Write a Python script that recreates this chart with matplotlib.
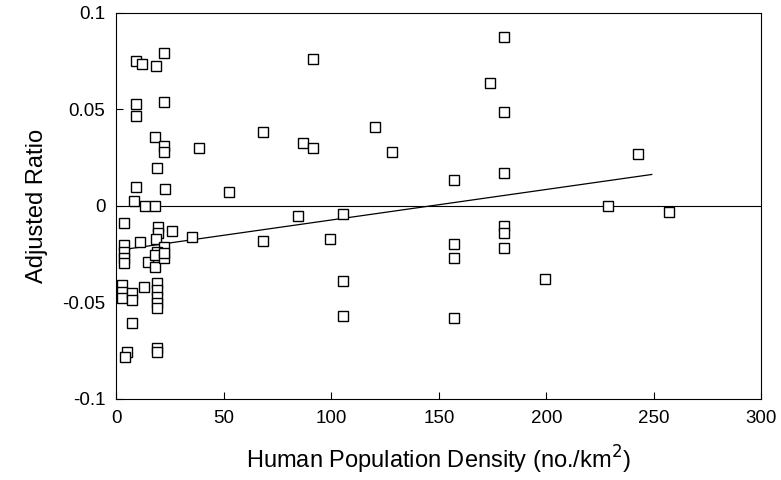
import matplotlib.pyplot as plt
import numpy as np

plt.rcParams['font.family'] = ['Liberation Sans', 'DejaVu Sans']

# population density (no./km2) vs adjusted ratio
density = [9.0, 12.1, 18.3, 22.0, 9.0, 9.0, 22.0, 17.8, 22.0, 22.0, 18.9,
           9.1, 22.4, 8.0, 13.4, 17.8, 3.6, 25.8, 19.3, 19.3, 18.2, 11.1,
           3.6, 3.6, 22.0, 18.9, 3.4, 3.4, 14.7, 18.1, 18.1, 22.0, 22.0,
           2.6, 2.6, 2.6, 7.2, 7.2, 12.7, 18.9, 18.9, 18.9, 18.9, 18.9,
           7.5, 5.1, 4.2, 18.9, 18.9, 35.0, 38.6, 52.4,
           68.3, 87.0, 91.6, 91.6, 120.3, 128.4, 157.1, 173.8, 180.4, 180.4, 180.4,
           84.6, 105.3, 68.3, 99.4, 157.1, 157.1, 180.4, 180.4, 180.4,
           105.6, 105.6, 157.1, 228.5, 256.9, 199.2, 242.6]
ratio = [0.0753, 0.0736, 0.0727, 0.0794, 0.0528, 0.0466, 0.0537, 0.0356, 0.0311, 0.0281, 0.0198,
         0.0097, 0.0087, 0.0028, -0.0003, 0.0002, -0.0090, -0.0128, -0.0107, -0.0142, -0.0173, -0.0185,
         -0.0202, -0.0237, -0.0211, -0.0237, -0.0271, -0.0297, -0.0289, -0.0254, -0.0314, -0.0271, -0.0245,
         -0.0409, -0.0444, -0.0478, -0.0452, -0.0487, -0.0418, -0.0401, -0.0435, -0.0470, -0.0504, -0.0530,
         -0.0608, -0.0755, -0.0784, -0.0737, -0.0758, -0.0162, 0.0302, 0.0071,
         0.0385, 0.0328, 0.0299, 0.0760, 0.0411, 0.0281, 0.0135, 0.0639, 0.0874, 0.0489, 0.0169,
         -0.0050, -0.0043, -0.0180, -0.0173, -0.0197, -0.0271, -0.0104, -0.0142, -0.0219,
         -0.0389, -0.0570, -0.0582, 0.0002, -0.0031, -0.0380, 0.0269]

# fitted regression line endpoints
fit_x = [2, 249]
fit_y = [-0.0228, 0.0163]

fig = plt.figure(figsize=(7.81, 4.80), dpi=100)
ax = fig.add_axes([0.149, 0.169, 0.826, 0.804])

ax.axhline(0, color='black', lw=0.8)
ax.plot(fit_x, fit_y, color='black', lw=0.9)
ax.plot(density, ratio, ls='none', marker='s', ms=7, mfc='white', mec='black', mew=1.0)

ax.set_xlim(0, 300)
ax.set_ylim(-0.1, 0.1)
ax.set_xticks([0, 50, 100, 150, 200, 250, 300])
ax.set_yticks([-0.1, -0.05, 0, 0.05, 0.1])
ax.set_yticklabels(['-0.1', '-0.05', '0', '0.05', '0.1'])
ax.tick_params(direction='in', length=5, labelsize=13.5, pad=8)

ax.set_xlabel('Human Population Density (no./km$^2$)', fontsize=17, labelpad=12)
ax.set_ylabel('Adjusted Ratio', fontsize=17, labelpad=10)

plt.savefig('out.png', dpi=100)
